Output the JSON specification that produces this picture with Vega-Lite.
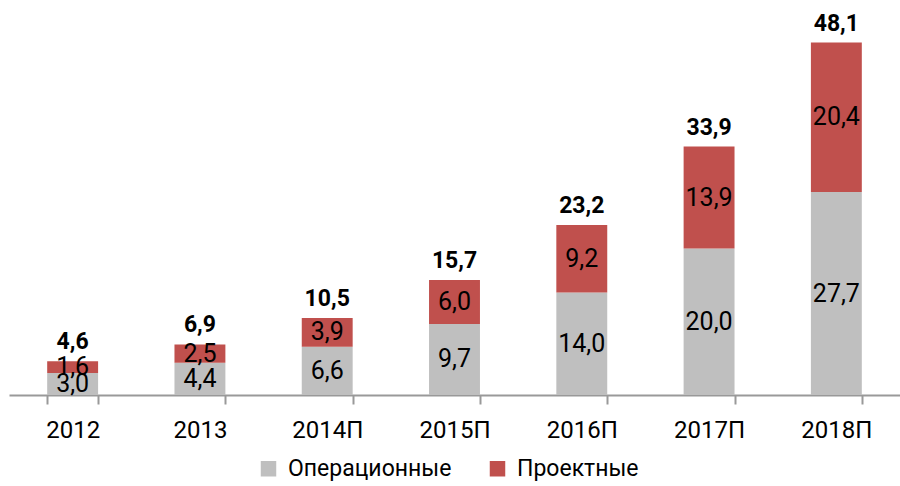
{
  "$schema": "https://vega.github.io/schema/vega-lite/v6.json",
  "autosize": {"type": "none"},
  "width": 891,
  "height": 381,
  "padding": {"left": 9, "top": 14, "right": 0, "bottom": 91},
  "background": "white",
  "config": {
    "view": {"stroke": null},
    "font": "Roboto, sans-serif",
    "locale": {"number": {"decimal": ",", "thousands": " ", "grouping": [3], "currency": ["", ""]}}
  },
  "data": {
    "values": [
      {"year": "2012", "type": "Операционные", "o": 1, "value": 3.0},
      {"year": "2012", "type": "Проектные", "o": 2, "value": 1.6},
      {"year": "2013", "type": "Операционные", "o": 1, "value": 4.4},
      {"year": "2013", "type": "Проектные", "o": 2, "value": 2.5},
      {"year": "2014П", "type": "Операционные", "o": 1, "value": 6.6},
      {"year": "2014П", "type": "Проектные", "o": 2, "value": 3.9},
      {"year": "2015П", "type": "Операционные", "o": 1, "value": 9.7},
      {"year": "2015П", "type": "Проектные", "o": 2, "value": 6.0},
      {"year": "2016П", "type": "Операционные", "o": 1, "value": 14.0},
      {"year": "2016П", "type": "Проектные", "o": 2, "value": 9.2},
      {"year": "2017П", "type": "Операционные", "o": 1, "value": 20.0},
      {"year": "2017П", "type": "Проектные", "o": 2, "value": 13.9},
      {"year": "2018П", "type": "Операционные", "o": 1, "value": 27.7},
      {"year": "2018П", "type": "Проектные", "o": 2, "value": 20.4}
    ]
  },
  "encoding": {
    "x": {
      "field": "year", "type": "nominal", "sort": null,
      "scale": {"paddingInner": 0.6, "paddingOuter": 0.3},
      "axis": {
        "title": null, "labelAngle": 0, "labelFontSize": 24, "labelColor": "#000",
        "domainColor": "#999", "domainWidth": 2, "tickColor": "#999", "tickWidth": 2,
        "tickSize": 9, "tickBand": "extent", "labelPadding": 14
      }
    }
  },
  "layer": [
    {
      "mark": {"type": "bar"},
      "encoding": {
        "y": {"field": "value", "type": "quantitative", "stack": "zero", "scale": {"domain": [0, 52], "nice": false}, "axis": null},
        "color": {
          "field": "type", "type": "nominal",
          "scale": {"domain": ["Операционные", "Проектные"], "range": ["#BFBFBF", "#C0504D"]},
          "legend": {
            "title": null, "orient": "none", "direction": "horizontal",
            "legendX": 248, "legendY": 443, "symbolType": "square", "symbolSize": 240,
            "symbolStrokeWidth": 0, "labelFontSize": 23, "labelColor": "#000",
            "labelOffset": 8, "labelLimit": 400, "columnPadding": 34
          }
        },
        "order": {"field": "o", "type": "quantitative"}
      }
    },
    {
      "transform": [
        {"stack": "value", "groupby": ["year"], "sort": [{"field": "o", "order": "ascending"}], "as": ["v0", "v1"]},
        {"calculate": "(datum.v0 + datum.v1) / 2", "as": "mid"}
      ],
      "mark": {"type": "text", "fontSize": 25, "color": "#000", "baseline": "middle"},
      "encoding": {
        "y": {"field": "mid", "type": "quantitative"},
        "text": {"field": "value", "type": "quantitative", "format": ".1f"}
      }
    },
    {
      "transform": [
        {"aggregate": [{"op": "sum", "field": "value", "as": "total"}], "groupby": ["year"]}
      ],
      "mark": {"type": "text", "fontSize": 23, "fontWeight": "bold", "color": "#000", "baseline": "bottom", "dy": -7},
      "encoding": {
        "y": {"field": "total", "type": "quantitative"},
        "text": {"field": "total", "type": "quantitative", "format": ".1f"}
      }
    }
  ]
}
